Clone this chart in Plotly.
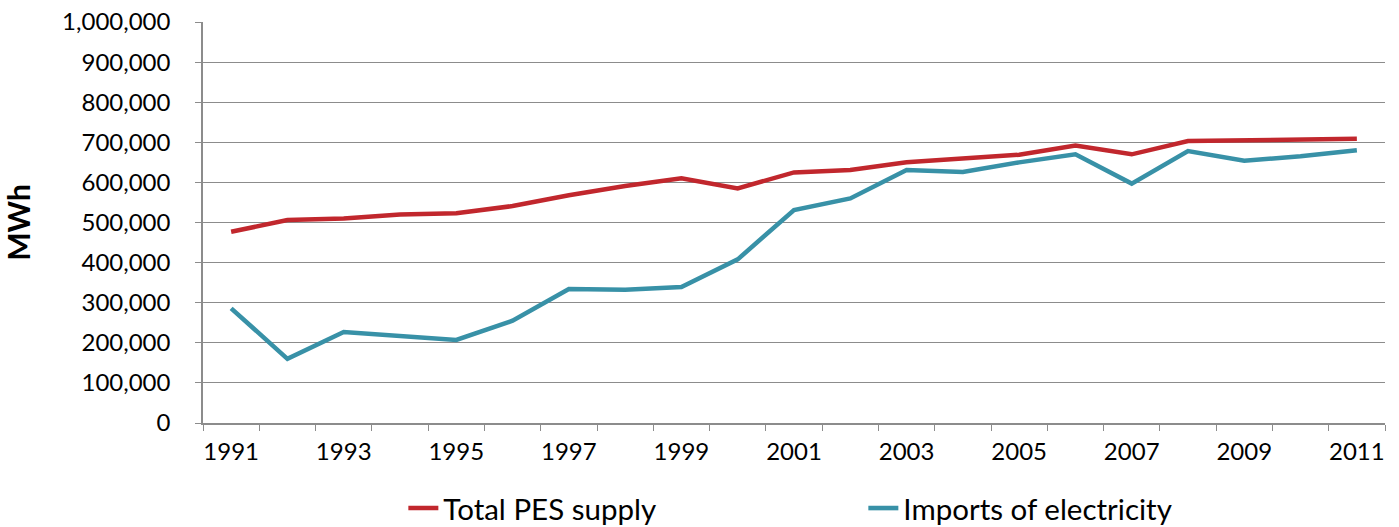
import plotly.graph_objects as go

# Annual energy figures, 1991-2011 (MWh)
years = [str(y) for y in range(1991, 2012)]
total_pes_supply = [477000, 506000, 510000, 520000, 523000, 541000, 568000, 591000,
                    610000, 585000, 625000, 631000, 650000, 660000, 669000, 692000,
                    670000, 703000, 705000, 709000, 709000]
imports_of_electricity = [286000, 160000, 227000, 218000, 207000, 255000, 334000, 332000,
                          339000, 408000, 531000, 560000, 631000, 626000, 650000, 670000,
                          597000, 678000, 654000, 665000, 680000]
# every other year is labelled on the category axis
year_labels = [y if int(y) % 2 == 1 else "" for y in years]

RED = "#C1272D"
TEAL = "#3891A7"
GRID = "#8C8C8C"
FONT = "Lato"

fig = go.Figure()
fig.add_trace(go.Scatter(x=years, y=total_pes_supply, mode="lines",
                         name="Total PES supply",
                         line=dict(color=RED, width=4.5)))
fig.add_trace(go.Scatter(x=years, y=imports_of_electricity, mode="lines",
                         name="Imports of electricity",
                         line=dict(color=TEAL, width=4.5)))

fig.update_layout(
    width=1399, height=527,
    margin=dict(l=203, r=14, t=22, b=104, autoexpand=False),
    paper_bgcolor="white", plot_bgcolor="white",
    font=dict(family=FONT, size=24, color="#000000"),
    showlegend=True,
    legend=dict(orientation="h", x=0.1695, xanchor="left", y=-0.213, yanchor="middle",
                entrywidth=415, font=dict(size=29.5), bgcolor="rgba(0,0,0,0)"),
)

fig.update_xaxes(
    type="category", range=[-0.5, 20.5],
    tickmode="array", tickvals=years, ticktext=year_labels, tickangle=0,
    tickson="boundaries", ticks="outside", ticklen=6, tickcolor=GRID, tickwidth=1,
    showline=True, linecolor=GRID, linewidth=1.5,
    showgrid=False, zeroline=False, automargin=False,
    ticklabelstandoff=6,
    tickfont=dict(family=FONT, size=24),
)

fig.update_yaxes(
    range=[0, 1000000], dtick=100000, tickformat=",",
    ticks="outside", ticklen=6, tickcolor=GRID, tickwidth=1,
    showline=True, linecolor=GRID, linewidth=1.5,
    showgrid=True, gridcolor=GRID, gridwidth=1.2,
    zeroline=False, automargin=False,
    ticklabelstandoff=20,
    tickfont=dict(family=FONT, size=24),
    title=dict(text="<b>MWh</b>", font=dict(family=FONT, size=30), standoff=24),
)

fig.write_html("out.html")
